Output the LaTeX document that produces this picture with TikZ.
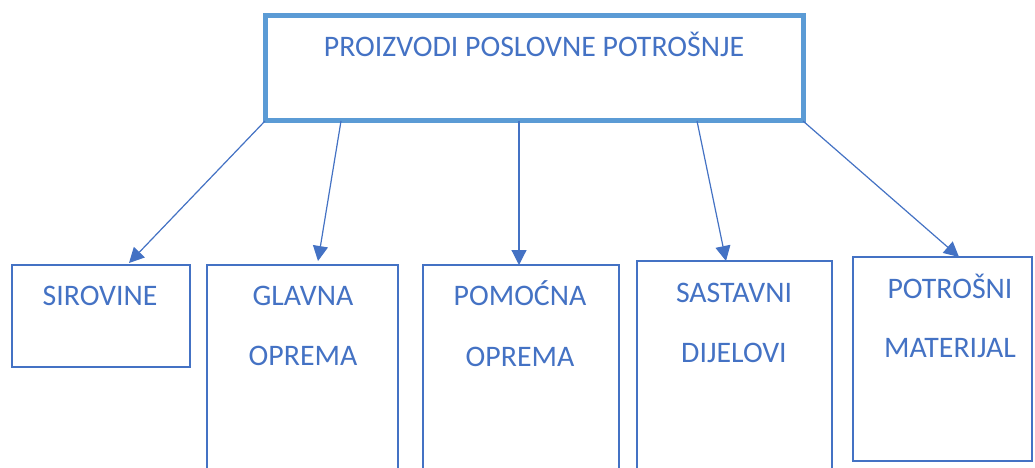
\documentclass[tikz,border=0pt]{standalone}
\usepackage{fontspec}
\setmainfont{Carlito}
\usetikzlibrary{arrows.meta,calc}
\definecolor{topblue}{HTML}{5B9BD5}
\definecolor{dblue}{HTML}{4472C4}
\begin{document}
\begin{tikzpicture}[x=1pt,y=-1pt,
  topbox/.style={draw=topblue,line width=5pt,rectangle,inner sep=0pt,outer sep=0pt},
  subbox/.style={draw=dblue,line width=1.5pt,rectangle,inner sep=0pt,outer sep=0pt},
  lbl/.style={text=dblue,font=\fontsize{29.8}{32}\selectfont,anchor=base,inner sep=0pt},
  arr/.style={draw=dblue,line width=1.2pt,-{Triangle[length=15pt,width=15pt]}}]
\useasboundingbox[fill=white] (0,0) rectangle (1035,468);
\node[topbox,minimum width=538pt,minimum height=105pt] (top) at (534,68.5) {};
\node[lbl] (ttl) at (534,57) {PROIZVODI POSLOVNE POTROŠNJE};
\node[subbox,minimum width=178pt,minimum height=102pt] (b1) at (101,316) {};
\node[subbox,minimum width=191pt,minimum height=235pt] (b2) at (302.5,382.5) {};
\node[subbox,minimum width=196pt,minimum height=235pt] (b3) at (521,382.5) {};
\node[subbox,minimum width=195pt,minimum height=239pt] (b4) at (734.5,380.5) {};
\node[subbox,minimum width=179pt,minimum height=204pt] (b5) at (942.5,359) {};
\node[lbl] (l1) at (100,305) {SIROVINE};
\node[lbl] (l2a) at (303,305) {GLAVNA};
\node[lbl] (l2b) at (303,365) {OPREMA};
\node[lbl] (l3a) at (520,305) {POMOĆNA};
\node[lbl] (l3b) at (520,366) {OPREMA};
\node[lbl] (l4a) at (734,302) {SASTAVNI};
\node[lbl] (l4b) at (734,362) {DIJELOVI};
\node[lbl] (l5a) at (950,298) {POTROŠNI};
\node[lbl] (l5b) at (950,357) {MATERIJAL};
\coordinate (s2) at ($(top.south west)+(76,0)$);
\coordinate (s3) at ($(top.south west)+(254,0)$);
\coordinate (s4) at ($(top.south west)+(432,0)$);
\coordinate (t1) at ($(b1.north west)+(117,-2)$);
\coordinate (t2) at ($(b2.north west)+(111,-4)$);
\coordinate (t3) at ($(b3.north west)+(96,0)$);
\coordinate (t4) at ($(b4.north west)+(89,0)$);
\coordinate (t5) at ($(b5.north west)+(106,0)$);
\draw[arr] (top.south west) -- (t1);
\draw[arr] (s2) -- (t2);
\draw[arr] (s3) -- (t3);
\draw[arr] (s4) -- (t4);
\draw[arr] (top.south east) -- (t5);
\end{tikzpicture}
\end{document}
